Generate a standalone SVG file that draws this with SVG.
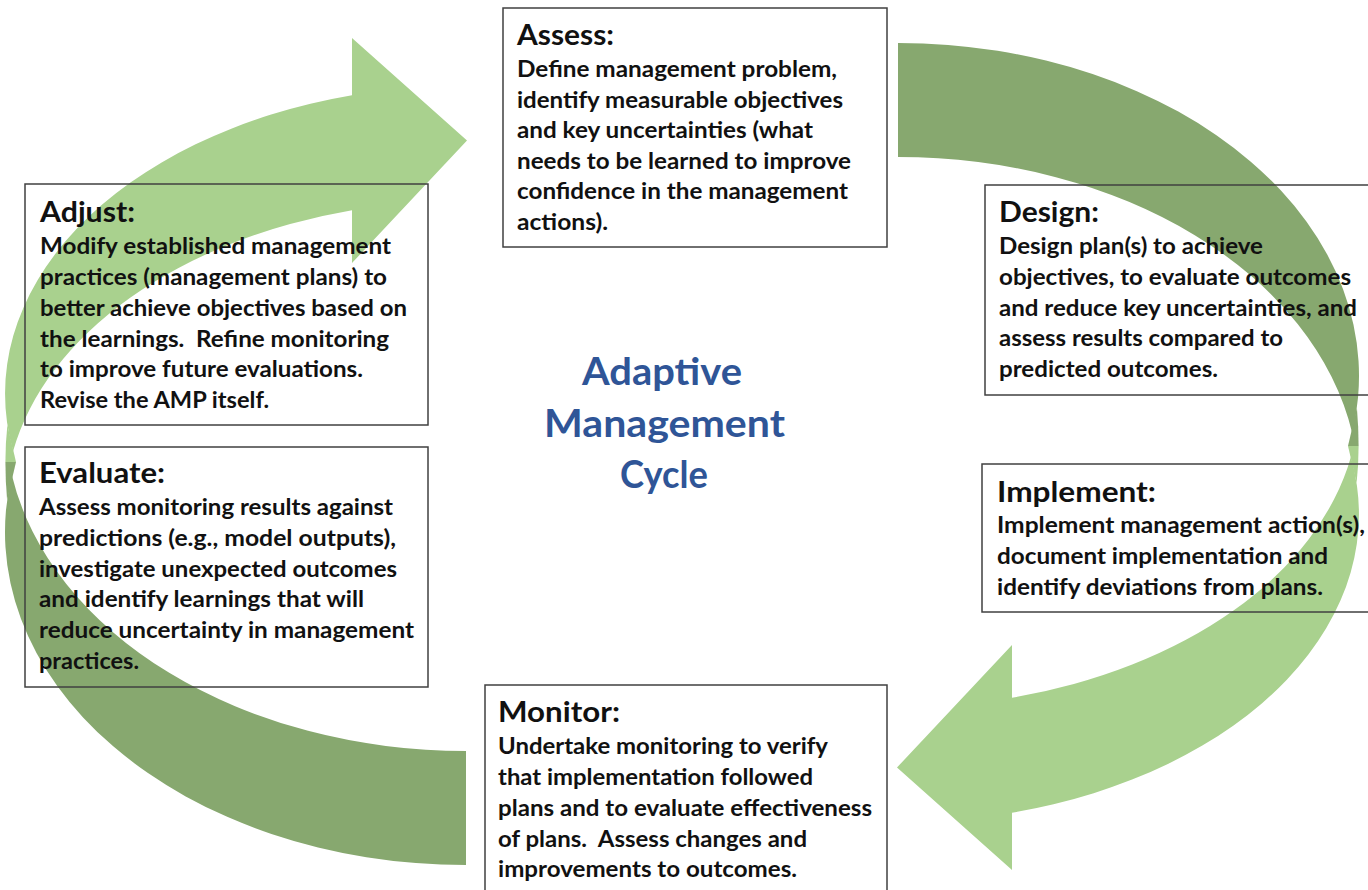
<svg xmlns="http://www.w3.org/2000/svg" xmlns:xlink="http://www.w3.org/1999/xlink" width="1368" height="890" viewBox="0 0 1368 890">
<style>
.box{fill:none;stroke:#404040;stroke-width:1.5}
.hd{font-family:Lato,"Liberation Sans",sans-serif;font-weight:700;font-size:28px;fill:#111}
.tx{font-family:Lato,"Liberation Sans",sans-serif;font-weight:700;font-size:23px;fill:#111}
.ct{font-family:Lato,"Liberation Sans",sans-serif;font-weight:700;font-size:38px;fill:#2F5597}
.light{fill:#A9D18E}
.dark{fill:#87A86F}
</style>
<defs>
<g id="curvedArrow">
<path class="light" d="M 13.1 451 A 461 308 0 0 1 352 95.3 L 352 38 L 467 140.5 L 352 263 L 352 210.3 A 461 308 0 0 0 13.1 451 Z"/>
<path class="light" d="M 7.4 425 Q 5.4 443 5.4 462 L 16 462 Z"/>
<path class="dark" d="M 5.4 462 Q 5.4 481 7.1 500 L 16 462 Z"/>
<path class="dark" d="M 11.8 475 A 461 333 0 0 0 466 865 L 466 751 A 461 333 0 0 1 11.8 475 Z"/>
</g>
</defs>
<rect width="1368" height="890" fill="#fff"/>
<g id="connectors">
<use xlink:href="#curvedArrow" href="#curvedArrow"/>
<use xlink:href="#curvedArrow" href="#curvedArrow" transform="rotate(180 682 454)"/>
</g>
<g id="assess">
<rect class="box" x="503" y="8" width="384" height="239"/>
<text class="hd" x="517" y="45" textLength="97" lengthAdjust="spacingAndGlyphs">Assess:</text>
<text class="tx" x="517" y="77" textLength="320" lengthAdjust="spacingAndGlyphs">Define management problem,</text>
<text class="tx" x="517" y="107.6" textLength="326" lengthAdjust="spacingAndGlyphs">identify measurable objectives</text>
<text class="tx" x="517" y="138.2" textLength="296" lengthAdjust="spacingAndGlyphs">and key uncertainties (what</text>
<text class="tx" x="517" y="168.8" textLength="334" lengthAdjust="spacingAndGlyphs">needs to be learned to improve</text>
<text class="tx" x="517" y="199.4" textLength="331" lengthAdjust="spacingAndGlyphs">confidence in the management</text>
<text class="tx" x="517" y="230" textLength="91" lengthAdjust="spacingAndGlyphs">actions).</text>
</g>
<g id="adjust">
<rect class="box" x="25" y="184" width="403" height="241"/>
<text class="hd" x="40" y="222" textLength="95" lengthAdjust="spacingAndGlyphs">Adjust:</text>
<text class="tx" x="40" y="254" textLength="351" lengthAdjust="spacingAndGlyphs">Modify established management</text>
<text class="tx" x="40" y="285" textLength="347" lengthAdjust="spacingAndGlyphs">practices (management plans) to</text>
<text class="tx" x="40" y="316" textLength="367" lengthAdjust="spacingAndGlyphs">better achieve objectives based on</text>
<text class="tx" x="40" y="347" textLength="349" lengthAdjust="spacingAndGlyphs" xml:space="preserve">the learnings.  Refine monitoring</text>
<text class="tx" x="40" y="377" textLength="323" lengthAdjust="spacingAndGlyphs">to improve future evaluations.</text>
<text class="tx" x="40" y="408" textLength="229" lengthAdjust="spacingAndGlyphs">Revise the AMP itself.</text>
</g>
<g id="evaluate">
<rect class="box" x="25" y="447" width="403" height="240"/>
<text class="hd" x="39" y="483" textLength="126" lengthAdjust="spacingAndGlyphs">Evaluate:</text>
<text class="tx" x="39" y="515" textLength="354" lengthAdjust="spacingAndGlyphs">Assess monitoring results against</text>
<text class="tx" x="39" y="546" textLength="357" lengthAdjust="spacingAndGlyphs">predictions (e.g., model outputs),</text>
<text class="tx" x="39" y="577" textLength="358" lengthAdjust="spacingAndGlyphs">investigate unexpected outcomes</text>
<text class="tx" x="39" y="607" textLength="325" lengthAdjust="spacingAndGlyphs">and identify learnings that will</text>
<text class="tx" x="39" y="638" textLength="375" lengthAdjust="spacingAndGlyphs">reduce uncertainty in management</text>
<text class="tx" x="39" y="669" textLength="100" lengthAdjust="spacingAndGlyphs">practices.</text>
</g>
<g id="design">
<rect class="box" x="985" y="185" width="400" height="210"/>
<text class="hd" x="999" y="222" textLength="100" lengthAdjust="spacingAndGlyphs">Design:</text>
<text class="tx" x="999" y="254" textLength="264" lengthAdjust="spacingAndGlyphs">Design plan(s) to achieve</text>
<text class="tx" x="999" y="285" textLength="352" lengthAdjust="spacingAndGlyphs">objectives, to evaluate outcomes</text>
<text class="tx" x="999" y="316" textLength="358" lengthAdjust="spacingAndGlyphs">and reduce key uncertainties, and</text>
<text class="tx" x="999" y="346" textLength="284" lengthAdjust="spacingAndGlyphs">assess results compared to</text>
<text class="tx" x="999" y="377" textLength="219" lengthAdjust="spacingAndGlyphs">predicted outcomes.</text>
</g>
<g id="implement">
<rect class="box" x="982" y="464" width="400" height="148"/>
<text class="hd" x="997" y="502" textLength="159" lengthAdjust="spacingAndGlyphs">Implement:</text>
<text class="tx" x="997" y="533" textLength="368" lengthAdjust="spacingAndGlyphs">Implement management action(s),</text>
<text class="tx" x="997" y="564" textLength="331" lengthAdjust="spacingAndGlyphs">document implementation and</text>
<text class="tx" x="997" y="595" textLength="326" lengthAdjust="spacingAndGlyphs">identify deviations from plans.</text>
</g>
<g id="monitor">
<rect class="box" x="485" y="685" width="402" height="220"/>
<text class="hd" x="498" y="722" textLength="122" lengthAdjust="spacingAndGlyphs">Monitor:</text>
<text class="tx" x="498" y="754" textLength="330" lengthAdjust="spacingAndGlyphs">Undertake monitoring to verify</text>
<text class="tx" x="498" y="785" textLength="315" lengthAdjust="spacingAndGlyphs">that implementation followed</text>
<text class="tx" x="498" y="816" textLength="374" lengthAdjust="spacingAndGlyphs">plans and to evaluate effectiveness</text>
<text class="tx" x="498" y="847" textLength="309" lengthAdjust="spacingAndGlyphs" xml:space="preserve">of plans.  Assess changes and</text>
<text class="tx" x="498" y="877" textLength="299" lengthAdjust="spacingAndGlyphs">improvements to outcomes.</text>
</g>
<g id="title">
<text class="ct" x="582" y="385" textLength="160" lengthAdjust="spacingAndGlyphs">Adaptive</text>
<text class="ct" x="544" y="437" textLength="241" lengthAdjust="spacingAndGlyphs">Management</text>
<text class="ct" x="620" y="488" textLength="88" lengthAdjust="spacingAndGlyphs">Cycle</text>
</g>
</svg>
